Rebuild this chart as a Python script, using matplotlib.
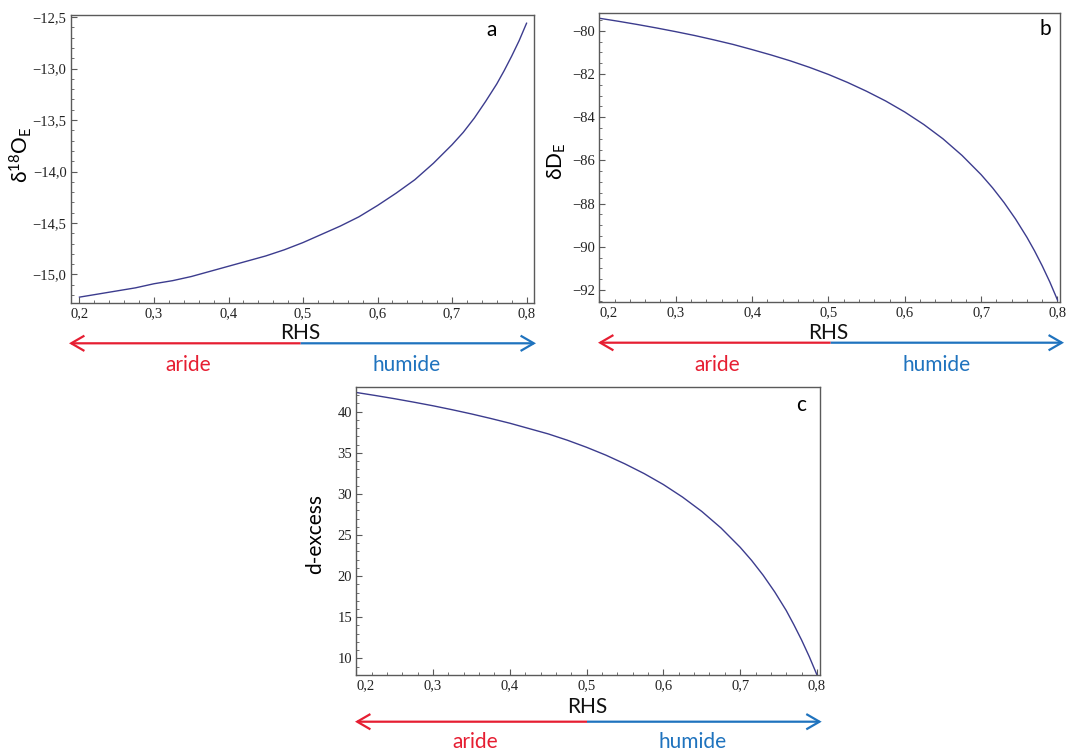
import matplotlib
matplotlib.use('Agg')
import matplotlib.pyplot as plt
from matplotlib.ticker import MultipleLocator, FuncFormatter
from matplotlib.patches import FancyArrowPatch

# RHS values
rhs = [0.200, 0.225, 0.250, 0.275, 0.300, 0.325, 0.350, 0.375, 0.400, 0.425, 0.450, 0.475,
       0.500, 0.525, 0.550, 0.575, 0.600, 0.625, 0.650, 0.675, 0.700, 0.715, 0.730, 0.745,
       0.760, 0.770, 0.780, 0.790, 0.800]
d18o_e = [-15.22, -15.19, -15.16, -15.13, -15.09, -15.06, -15.02, -14.97, -14.92, -14.87,
          -14.82, -14.76, -14.69, -14.61, -14.53, -14.44, -14.33, -14.21, -14.08, -13.92,
          -13.74, -13.62, -13.48, -13.32, -13.15, -13.02, -12.88, -12.73, -12.56]
dd_e = [-79.42, -79.56, -79.71, -79.87, -80.04, -80.22, -80.42, -80.63, -80.87, -81.12,
        -81.39, -81.69, -82.02, -82.39, -82.80, -83.25, -83.76, -84.34, -85.00, -85.77,
        -86.66, -87.27, -87.95, -88.71, -89.56, -90.19, -90.88, -91.63, -92.46]
d_excess = [42.34, 41.97, 41.58, 41.16, 40.72, 40.24, 39.73, 39.18, 38.60, 37.95,
            37.30, 36.53, 35.67, 34.72, 33.65, 32.47, 31.14, 29.61, 27.87, 25.86,
            23.51, 21.90, 20.10, 18.08, 15.82, 14.08, 12.23, 10.21, 7.99]
x_ticks = [0.2, 0.3, 0.4, 0.5, 0.6, 0.7, 0.8]

W, H = 1067, 753
SANS = ['Lato', 'DejaVu Sans']
SERIF = 'Liberation Serif'
LINE = '#3c3c8e'
RED = '#e61e32'
BLUE = '#1f73be'
FRAME = '#5a5a5a'

plt.rcParams['mathtext.fontset'] = 'custom'
plt.rcParams['mathtext.rm'] = 'Lato'
plt.rcParams['mathtext.it'] = 'Lato'

fig = plt.figure(figsize=(W / 100, H / 100), dpi=100)


def rect(left, right, top, bottom):
    return [left / W, 1 - bottom / H, (right - left) / W, (bottom - top) / H]


def fx(px):
    return px / W


def fy(py):
    return 1 - py / H


def comma(decimals):
    def f(v, pos):
        return f'{v:.{decimals}f}'.replace('.', ',').replace('-', '\u2212')
    return FuncFormatter(f)


def style(ax, xlim, ylim, ymaj, ymin, ydec):
    ax.set_xticks(x_ticks)
    ax.set_xlim(*xlim)
    ax.set_ylim(*ylim)
    ax.xaxis.set_minor_locator(MultipleLocator(0.02))
    ax.yaxis.set_major_locator(MultipleLocator(ymaj))
    ax.yaxis.set_minor_locator(MultipleLocator(ymin))
    ax.xaxis.set_major_formatter(comma(1))
    ax.yaxis.set_major_formatter(comma(ydec))
    ax.tick_params(which='both', direction='in', top=False, right=False, colors=FRAME,
                   labelcolor='#222222', labelsize=10.5, pad=3, labelfontfamily=SERIF)
    ax.tick_params(which='major', length=4.5, width=0.8)
    ax.tick_params(which='minor', length=2.5, width=0.6)
    for sp in ax.spines.values():
        sp.set_color(FRAME)
        sp.set_linewidth(1.0)


def rhs_arrow(left, split, right, y, label_y, rhs_xy, aride_x, humide_x):
    fig.text(fx(rhs_xy[0]), fy(rhs_xy[1]), 'RHS', family=SANS, fontsize=15,
             ha='center', va='center', color='#111111')
    for a, b, c in [(split, left, RED), (split, right, BLUE)]:
        arr = FancyArrowPatch((fx(a), fy(y)), (fx(b), fy(y)), transform=fig.transFigure,
                              arrowstyle='->,head_length=0.95,head_width=0.55',
                              mutation_scale=10, color=c, lw=1.6,
                              shrinkA=0, shrinkB=0, joinstyle='miter', capstyle='butt')
        fig.add_artist(arr)
    fig.text(fx(aride_x), fy(label_y), 'aride', family=SANS, fontsize=15,
             ha='center', va='center', color=RED)
    fig.text(fx(humide_x), fy(label_y), 'humide', family=SANS, fontsize=15,
             ha='center', va='center', color=BLUE)


# panel a
ax1 = fig.add_axes(rect(70.7, 534, 15, 303))
ax1.plot(rhs, d18o_e, color=LINE, lw=1.0)
style(ax1, (0.1882, 0.810), (-15.277, -12.48), 0.5, 0.1, 1)
fig.text(fx(21), fy(155), r'$\mathrm{\delta^{18}O_E}$', family=SANS, fontsize=15,
         rotation=90, ha='center', va='center')
fig.text(fx(492), fy(30), 'a', family=SANS, fontsize=15, ha='center', va='center')
rhs_arrow(69, 300.7, 536, 343.3, 365, (300.7, 333), 188, 407)

# panel b
ax2 = fig.add_axes(rect(599.4, 1060, 13.3, 301.7))
ax2.plot(rhs, dd_e, color=LINE, lw=1.0)
style(ax2, (0.2, 0.8033), (-92.54, -79.19), 2, 0.5, 0)
fig.text(fx(557), fy(161), r'$\mathrm{\delta D_E}$', family=SANS, fontsize=15,
         rotation=90, ha='center', va='center')
fig.text(fx(1045), fy(29), 'b', family=SANS, fontsize=15, ha='center', va='center')
rhs_arrow(598, 830.7, 1064, 342.7, 365, (828, 333), 717, 937)

# panel c
ax3 = fig.add_axes(rect(356.3, 820, 387.3, 675))
ax3.plot(rhs, d_excess, color=LINE, lw=1.0)
style(ax3, (0.2, 0.804), (7.97, 42.97), 5, 1, 0)
fig.text(fx(315), fy(534), 'd-excess', family=SANS, fontsize=15,
         rotation=90, ha='center', va='center')
fig.text(fx(801), fy(405), 'c', family=SANS, fontsize=15, ha='center', va='center')
rhs_arrow(355, 587, 821.7, 721.7, 742, (587, 706.7), 475, 693)

# first x label of b and c starts at the frame edge
fig.canvas.draw()
for ax in (ax2, ax3):
    ax.xaxis.get_major_ticks()[0].label1.set_horizontalalignment('left')

fig.savefig('out.png', dpi=100)
